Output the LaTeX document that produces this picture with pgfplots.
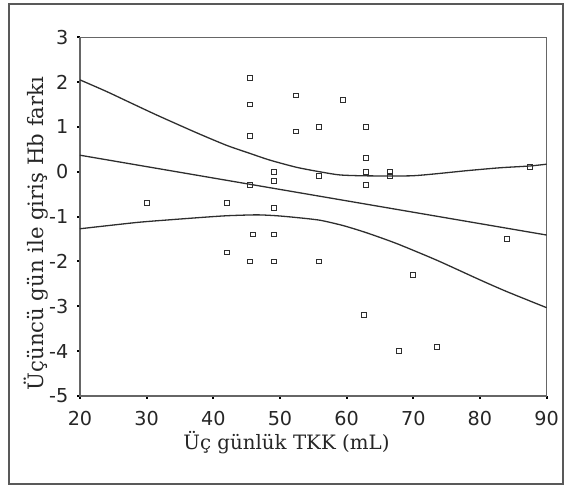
\documentclass[border=0pt]{standalone}
\usepackage{pgfplots}
\pgfplotsset{compat=1.18}
\usepackage{fontspec}
\setmainfont{DejaVu Serif}
\setsansfont{DejaVu Sans}
\definecolor{ln}{HTML}{2E2E2E}
\begin{document}
\begin{tikzpicture}
\path[use as bounding box] (0,0) rectangle (284pt,243pt);
\draw[gray!70!black, line width=0.6pt] (4.5pt,1pt) rectangle (281.5pt,241pt);
\begin{axis}[
    at={(40pt,45pt)}, anchor=south west,
    scale only axis, width=233.3pt, height=179.35pt,
    xmin=20, xmax=90, ymin=-5, ymax=3,
    xtick={20,30,...,90}, ytick={-5,-4,...,3},
    axis line style={gray!80!black, line width=0.6pt},
    tick align=outside, xtick pos=bottom, ytick pos=left,
    major tick length=1.3pt,
    tick style={black, line width=1pt},
    /pgf/number format/assume math mode=true,
    ticklabel style={font=\sffamily\fontsize{9.6}{11}\selectfont, text=black!85},
    xticklabel style={yshift=-3pt},
    yticklabel style={xshift=-1pt},
    xlabel={Üç günlük TKK (mL)},
    ylabel={Üçüncü gün ile giriş Hb farkı},
    xlabel style={font=\rmfamily\fontsize{9.9}{11}\selectfont, text=black!85,
        at={(axis description cs:0.4425,-0.1505)}, anchor=base},
    ylabel style={font=\rmfamily\fontsize{10.6}{12}\selectfont, text=black!85,
        at={(axis description cs:-0.0785,0.453)}, anchor=base},
    clip=false,
]
% observations
\addplot[only marks, mark=square, mark size=1.2pt, mark options={ln, line width=0.5pt}] coordinates {
    (30,-0.7) (42.1,-0.7) (42.1,-1.8)
    (45.5,2.1) (45.5,1.5) (45.5,0.8) (45.5,-0.3) (45.5,-2.0) (46,-1.4)
    (49.1,0.0) (49.1,-0.2) (49.1,-0.8) (49.1,-1.4) (49.1,-2.0)
    (52.4,1.7) (52.4,0.9)
    (55.9,1.0) (55.9,-0.1) (55.9,-2.0)
    (59.5,1.6)
    (62.9,1.0) (62.9,0.3) (62.9,0.0) (62.9,-0.3) (62.6,-3.2)
    (66.5,0.0) (66.5,-0.1)
    (67.9,-4.0) (70,-2.3) (73.5,-3.9)
    (84,-1.5) (87.5,0.1)
};
% fit line
\addplot[ln, line width=0.65pt] coordinates {(20,0.37) (90,-1.41)};
% upper 95% band
\addplot[ln, line width=0.65pt, smooth, tension=0.4] coordinates {
    (20,2.05) (24,1.79) (28,1.51) (31.75,1.25) (37.5,0.87) (42,0.59)
    (45.5,0.41) (48.5,0.26) (52.5,0.10) (56,0.0) (59,-0.07) (63,-0.09)
    (69.5,-0.09) (73,-0.05) (78,0.025) (83,0.09) (87.5,0.13) (90,0.17)
};
% lower 95% band
\addplot[ln, line width=0.65pt, smooth, tension=0.4] coordinates {
    (20,-1.27) (28.5,-1.13) (33.5,-1.07) (38,-1.02) (42,-0.98) (46.5,-0.96)
    (49.5,-0.98) (52.5,-1.02) (56,-1.08) (59.5,-1.20) (63,-1.36) (67.5,-1.60)
    (73.5,-1.97) (80,-2.41) (84,-2.67) (90,-3.03)
};
\end{axis}
\end{tikzpicture}
\end{document}
